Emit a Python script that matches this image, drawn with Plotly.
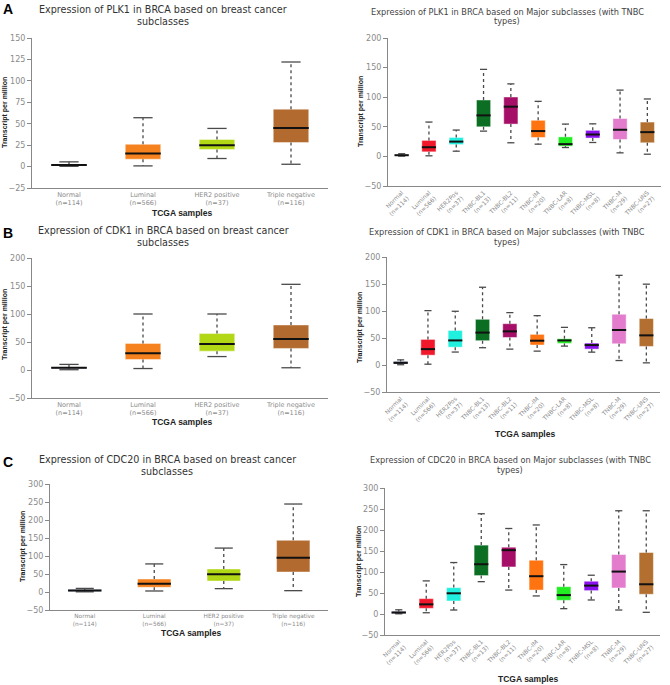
import plotly.graph_objects as go

W, H = 670, 685

# ---------------- data ----------------
cats4 = ["Normal", "Luminal", "HER2 positive", "Triple negative"]
n4 = [114, 566, 37, 116]
cats10 = ["Normal", "Luminal", "HER2Pos", "TNBC-BL1", "TNBC-BL2", "TNBC-IM",
          "TNBC-LAR", "TNBC-MSL", "TNBC-M", "TNBC-UNS"]
n10 = [114, 566, 37, 13, 11, 20, 8, 8, 29, 27]

colors4 = ["#1f2f86", "#f5821f", "#b2d714", "#b36a2e"]
colors10 = ["#1f2f86", "#f2182c", "#22f0de", "#0b6e22", "#a50f67", "#ff7410",
            "#22ec22", "#8a12f0", "#e37ccd", "#b26f2f"]

# PLK1
plk1_4_low = [0.3, 0.8, 9.4, 2.7]
plk1_4_q1 = [1.0, 8.6, 20.0, 28.0]
plk1_4_med = [1.8, 15.2, 25.0, 45.0]
plk1_4_q3 = [2.8, 26.0, 31.6, 67.0]
plk1_4_up = [5.5, 57.0, 44.5, 122.0]

plk1_10_low = [0.5, 1.0, 8.8, 42.7, 23.0, 20.7, 15.0, 23.5, 6.0, 3.7]
plk1_10_q1 = [1.0, 7.7, 20.0, 50.0, 54.6, 32.0, 17.3, 31.0, 28.6, 23.0]
plk1_10_med = [2.0, 15.5, 25.0, 69.3, 84.0, 42.8, 20.7, 37.0, 45.0, 41.0]
plk1_10_q3 = [3.0, 27.0, 32.0, 95.3, 100.3, 61.0, 33.0, 44.0, 64.0, 58.0]
plk1_10_up = [4.5, 58.0, 44.5, 147.0, 122.5, 93.0, 54.6, 55.0, 112.0, 97.0]

# CDK1
cdk1_4_low = [0.5, 2.6, 24.0, 4.0]
cdk1_4_q1 = [2.5, 18.8, 33.7, 38.5]
cdk1_4_med = [4.0, 30.0, 46.3, 55.3]
cdk1_4_q3 = [5.5, 47.5, 65.0, 80.4]
cdk1_4_up = [10.0, 100.0, 100.0, 153.0]

cdk1_10_low = [0.5, 1.5, 24.0, 32.0, 29.4, 25.7, 35.0, 23.8, 8.3, 4.0]
cdk1_10_q1 = [2.0, 18.2, 33.0, 45.0, 51.0, 37.0, 40.0, 29.4, 39.3, 34.4]
cdk1_10_med = [4.0, 29.4, 45.5, 60.0, 62.3, 45.0, 45.5, 36.9, 64.8, 54.9]
cdk1_10_q3 = [6.5, 47.4, 64.0, 84.6, 76.5, 56.7, 48.6, 40.6, 94.0, 86.0]
cdk1_10_up = [9.5, 100.7, 99.5, 144.0, 97.0, 91.4, 69.7, 69.0, 166.0, 149.7]

# CDC20
cdc20_4_low = [0.5, 2.8, 9.3, 3.7]
cdc20_4_q1 = [2.0, 13.0, 30.5, 55.5]
cdc20_4_med = [4.0, 23.0, 49.0, 95.4]
cdc20_4_q3 = [6.0, 36.0, 64.0, 143.5]
cdc20_4_up = [10.0, 78.0, 122.0, 244.4]

cdc20_10_low = [0.5, 3.0, 9.5, 77.0, 57.0, 43.0, 12.7, 33.4, 9.5, 4.0]
cdc20_10_q1 = [1.5, 13.5, 31.0, 91.5, 112.0, 57.0, 32.6, 55.7, 62.0, 47.0]
cdc20_10_med = [3.5, 23.0, 49.3, 118.5, 152.0, 90.0, 45.0, 67.6, 101.0, 70.8]
cdc20_10_q3 = [6.0, 36.6, 62.8, 164.0, 159.0, 128.0, 65.0, 78.0, 141.6, 146.4]
cdc20_10_up = [10.0, 78.8, 122.5, 238.7, 203.6, 212.0, 117.7, 92.3, 245.8, 245.8]

# ---------------- layout helpers ----------------
def px_x(p):
    return p / W


def px_y(p):
    return 1 - p / H


panels = [
    dict(cats=cats4, n=n4, colors=colors4,
         stats=(plk1_4_low, plk1_4_q1, plk1_4_med, plk1_4_q3, plk1_4_up),
         xd=(32, 328), yd=(38, 188), yr=(-25, 150), dt=25, left=True, fs=6.5),
    dict(cats=cats10, n=n10, colors=colors10,
         stats=(plk1_10_low, plk1_10_q1, plk1_10_med, plk1_10_q3, plk1_10_up),
         xd=(388, 661), yd=(38, 186), yr=(-50, 200), dt=50, left=False, fs=6),
    dict(cats=cats4, n=n4, colors=colors4,
         stats=(cdk1_4_low, cdk1_4_q1, cdk1_4_med, cdk1_4_q3, cdk1_4_up),
         xd=(32, 328), yd=(258, 398), yr=(-50, 200), dt=50, left=True, fs=6.5),
    dict(cats=cats10, n=n10, colors=colors10,
         stats=(cdk1_10_low, cdk1_10_q1, cdk1_10_med, cdk1_10_q3, cdk1_10_up),
         xd=(387, 660), yd=(257, 392), yr=(-50, 200), dt=50, left=False, fs=6),
    dict(cats=cats4, n=n4, colors=colors4,
         stats=(cdc20_4_low, cdc20_4_q1, cdc20_4_med, cdc20_4_q3, cdc20_4_up),
         xd=(50, 328), yd=(484, 610), yr=(-50, 300), dt=50, left=True, fs=5.8),
    dict(cats=cats10, n=n10, colors=colors10,
         stats=(cdc20_10_low, cdc20_10_q1, cdc20_10_med, cdc20_10_q3, cdc20_10_up),
         xd=(385, 660), yd=(488, 635), yr=(-50, 300), dt=50, left=False, fs=6),
]

fig = go.Figure()
layout = dict(width=W, height=H, margin=dict(l=0, r=0, t=0, b=0, pad=0, autoexpand=False),
              template="none",
              plot_bgcolor="white", paper_bgcolor="white", showlegend=False,
              font=dict(family="DejaVu Sans", color="#555"))

WH = "#4a4a4a"
for k, p in enumerate(panels):
    ax = "" if k == 0 else str(k + 1)
    xa, ya = "x" + ax, "y" + ax
    low, q1, med, q3, up = p["stats"]
    idx = list(range(len(p["cats"])))
    bw = 0.48 if p["left"] else 0.52
    cap = 0.13
    # box
    fig.add_trace(go.Bar(x=idx, y=[b - a for a, b in zip(q1, q3)], base=q1,
                         width=bw, marker=dict(color=p["colors"],
                                               line=dict(color="rgba(255,255,255,0.45)", width=1)),
                         xaxis=xa, yaxis=ya, hoverinfo="skip"))
    # whiskers
    wx, wy = [], []
    for i in idx:
        wx += [i, i, None, i, i, None]
        wy += [q3[i], up[i], None, q1[i], low[i], None]
    fig.add_trace(go.Scatter(x=wx, y=wy, mode="lines", xaxis=xa, yaxis=ya,
                             line=dict(color=WH, width=1.3, dash="dot"), hoverinfo="skip"))
    # caps
    cx, cy = [], []
    for i in idx:
        cx += [i - cap, i + cap, None, i - cap, i + cap, None]
        cy += [up[i], up[i], None, low[i], low[i], None]
    fig.add_trace(go.Scatter(x=cx, y=cy, mode="lines", xaxis=xa, yaxis=ya,
                             line=dict(color=WH, width=1.3), hoverinfo="skip"))
    # medians
    mx, my = [], []
    for i in idx:
        mx += [i - bw / 2, i + bw / 2, None]
        my += [med[i], med[i], None]
    fig.add_trace(go.Scatter(x=mx, y=my, mode="lines", xaxis=xa, yaxis=ya,
                             line=dict(color="#111", width=2), hoverinfo="skip"))

    ticktext = [f"{c}<br>(n={n})" for c, n in zip(p["cats"], p["n"])]
    layout["xaxis" + ax] = dict(
        domain=[px_x(p["xd"][0]), px_x(p["xd"][1])], anchor=ya, automargin=False,
        range=[-0.5, len(idx) - 0.5], tickmode="array", tickvals=idx, ticktext=ticktext,
        tickangle=0 if p["left"] else -45, ticks="", showgrid=False, zeroline=False,
        showline=True, linecolor="#888", linewidth=1,
        tickfont=dict(family="DejaVu Sans", size=p["fs"], color="#8a8a8a"))
    layout["yaxis" + ax] = dict(
        domain=[px_y(p["yd"][1]), px_y(p["yd"][0])], anchor=xa, automargin=False,
        range=list(p["yr"]), dtick=p["dt"], tick0=0, ticks="outside", ticklen=4,
        tickcolor="#888", showgrid=False, zeroline=False, showline=True,
        linecolor="#888", linewidth=1,
        tickfont=dict(family="DejaVu Sans", size=8, color="#8a8a8a"))

ann = []


def text(x, y, s, size, color="#444", family="DejaVu Sans", bold=False, angle=0, xanchor="center"):
    ann.append(dict(x=px_x(x), y=px_y(y), xref="paper", yref="paper", text=f"<b>{s}</b>" if bold else s,
                    showarrow=False, xanchor=xanchor, yanchor="middle", textangle=angle,
                    font=dict(size=size, color=color, family=family)))


# panel letters
for lab, y in (("A", 9), ("B", 233), ("C", 462)):
    text(1, y, lab, 14, "#000", "Liberation Sans", True, xanchor="left")

# titles
lt = [("PLK1", 163, 10), ("CDK1", 163, 231), ("CDC20", 167, 460)]
for g, x, y in lt:
    text(x, y, f"Expression of {g} in BRCA based on breast cancer", 9.6, "#333")
    text(x, y + 11, "subclasses", 9.6, "#333")
rt = [("PLK1", 507, 12), ("CDK1", 507, 232), ("CDC20", 510, 460)]
for g, x, y in rt:
    text(x, y, f"Expression of {g} in BRCA based on Major subclasses (with TNBC", 8.2, "#444")
    text(x, y + 9.5, "types)", 8.2, "#444")

# x titles
for x, y in ((182, 213), (182, 422), (191, 633), (525, 434), (528, 679)):
    text(x, y, "TCGA samples", 8.5, "#222", "Liberation Sans", True)

# y titles
for x, y in ((5, 113), (5, 325), (23, 547), (361, 111), (360, 328), (359, 562)):
    text(x, y, "Transcript per million", 7, "#222", "Liberation Sans", True, angle=-90)

layout["annotations"] = ann
fig.update_layout(**layout)
fig.write_html("out.html", config={"displayModeBar": False},
               post_script="document.body.style.margin='0';document.body.style.overflow='hidden';")
